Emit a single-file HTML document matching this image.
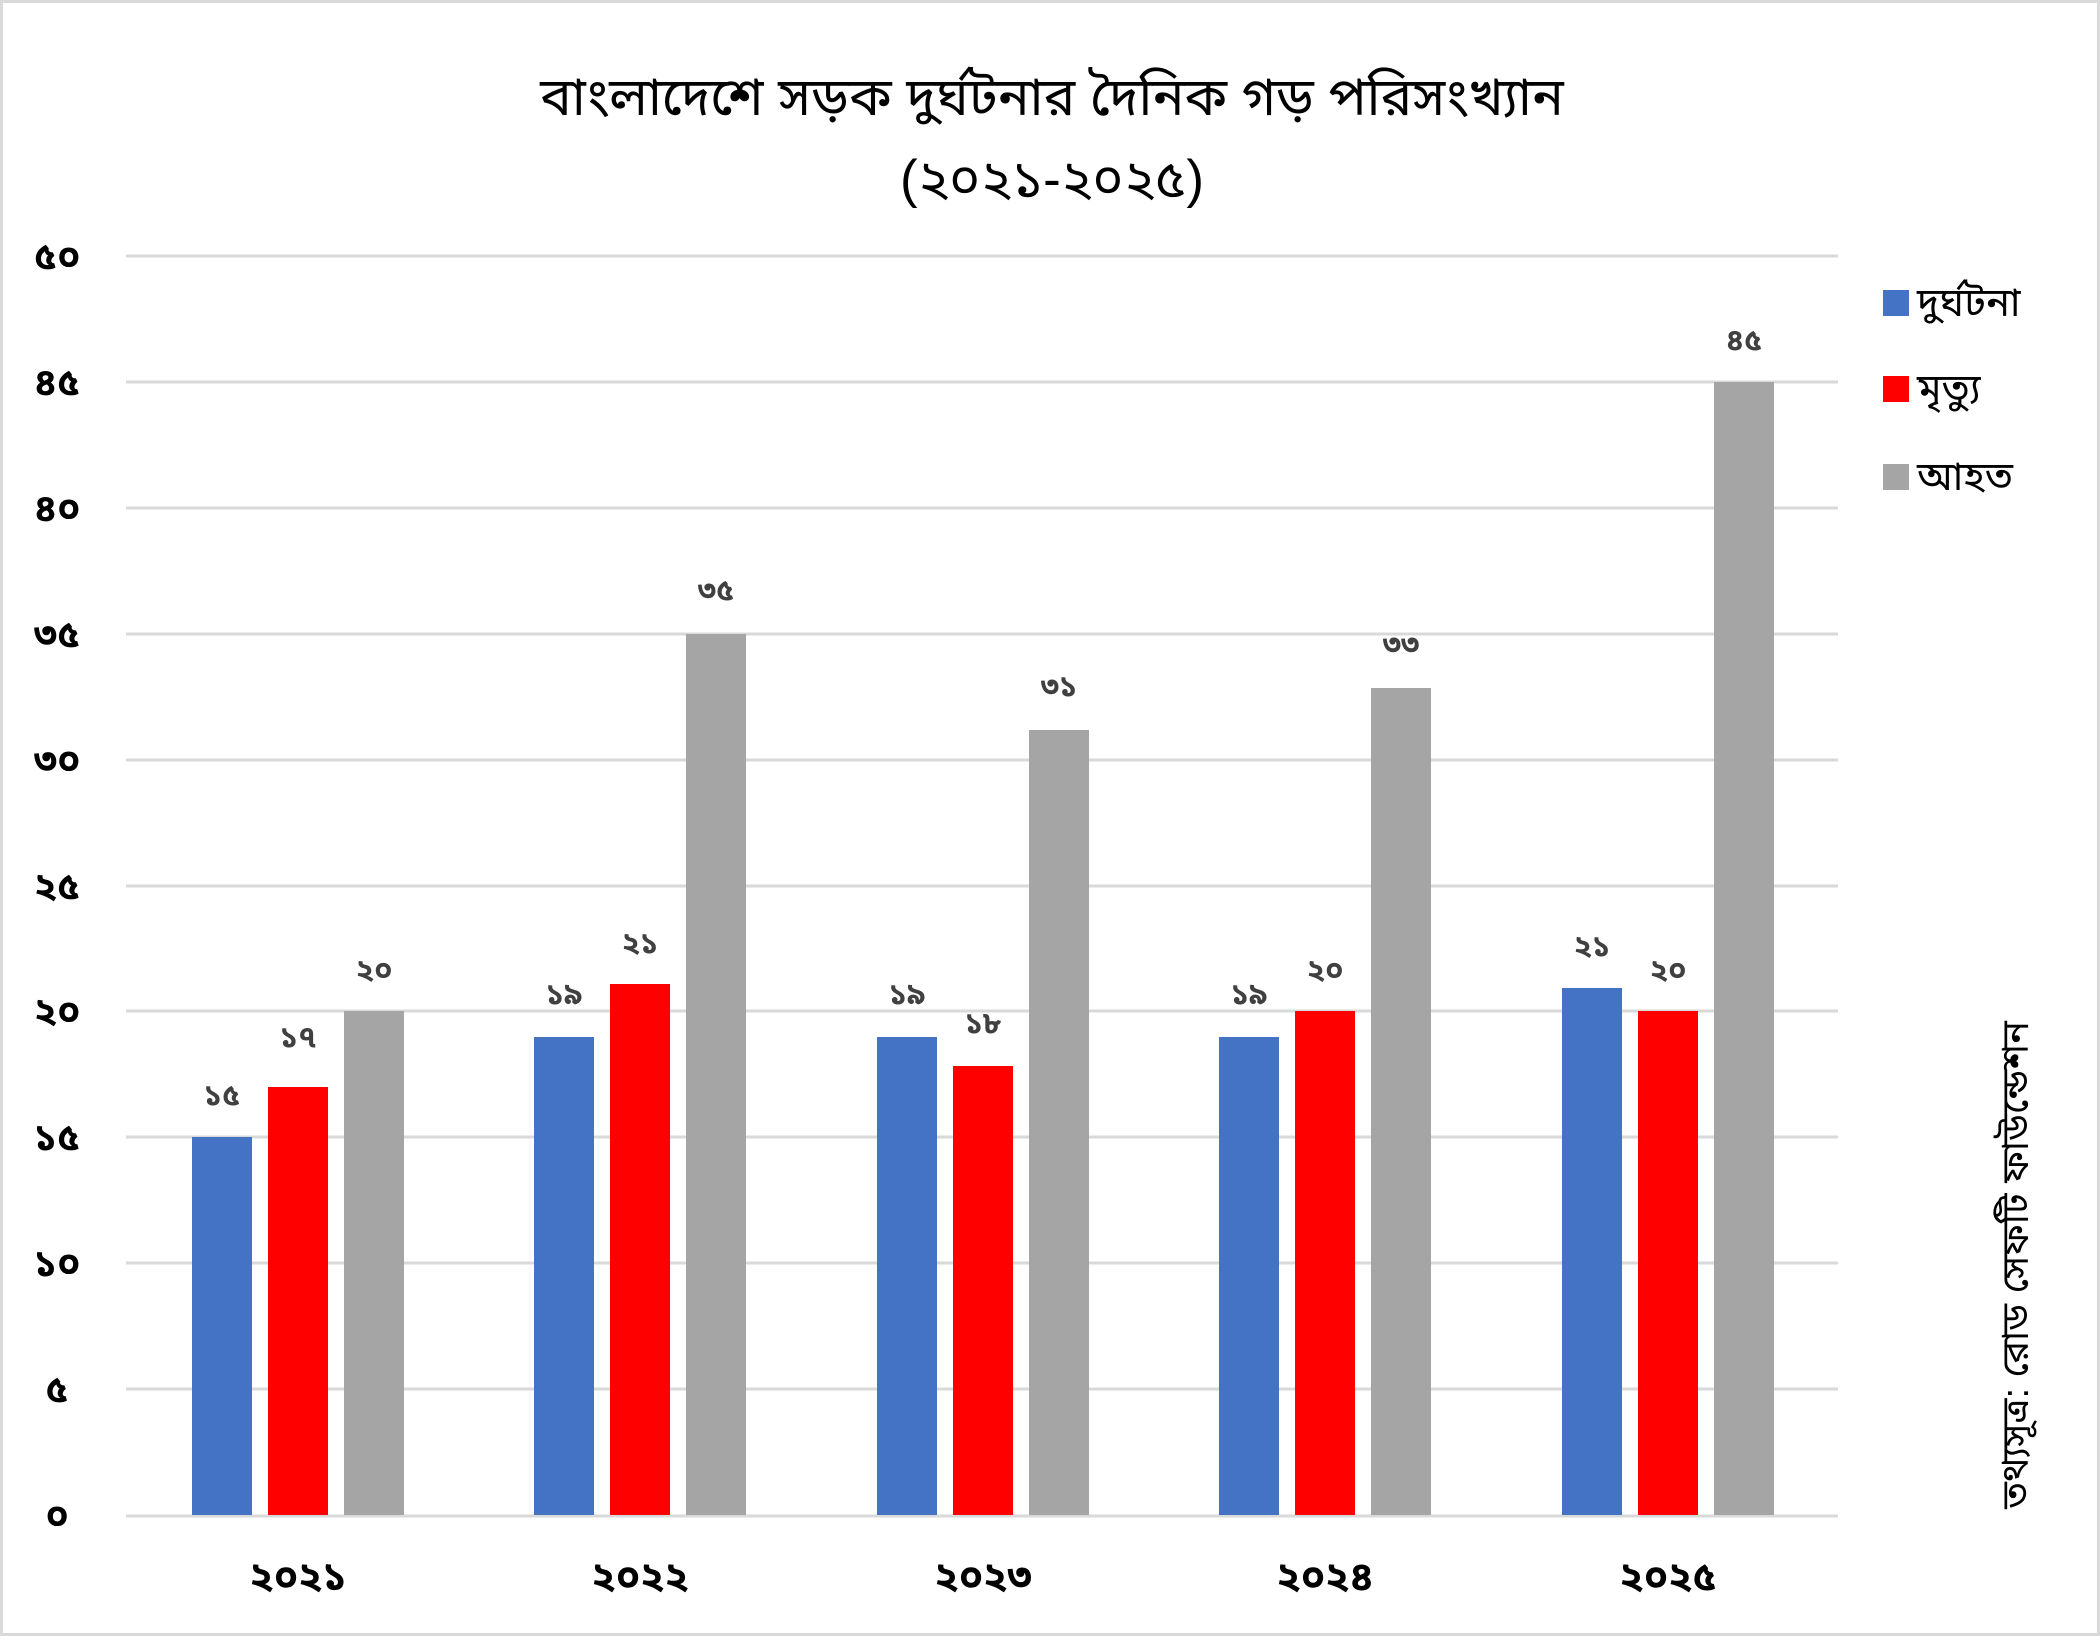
<!DOCTYPE html>
<html><head><meta charset="utf-8"><style>
html,body{margin:0;padding:0;background:#fff}
</style></head><body>
<svg width="2100" height="1636" xmlns="http://www.w3.org/2000/svg" font-family="'Liberation Sans','Noto Sans Bengali','Lohit Bengali',sans-serif">
<rect x="1.5" y="1.5" width="2097" height="1633" fill="#fff" stroke="#d9d9d9" stroke-width="3"/>
<text x="1052" y="115" font-size="53" text-anchor="middle">বাংলাদেশে সড়ক দুর্ঘটনার দৈনিক গড় পরিসংখ্যান</text>
<text x="1052" y="197" font-size="53" text-anchor="middle">(২০২১-২০২৫)</text>
<g stroke="#d9d9d9" stroke-width="3">
<line x1="126" x2="1838" y1="256" y2="256"/><line x1="126" x2="1838" y1="382" y2="382"/>
<line x1="126" x2="1838" y1="508" y2="508"/><line x1="126" x2="1838" y1="634" y2="634"/>
<line x1="126" x2="1838" y1="760" y2="760"/><line x1="126" x2="1838" y1="886" y2="886"/>
<line x1="126" x2="1838" y1="1011" y2="1011"/><line x1="126" x2="1838" y1="1137" y2="1137"/>
<line x1="126" x2="1838" y1="1263" y2="1263"/><line x1="126" x2="1838" y1="1389" y2="1389"/>
<line x1="126" x2="1838" y1="1516" y2="1516"/>
</g>
<g font-size="38" text-anchor="middle" font-weight="bold">
<text x="57" y="269">৫০</text><text x="57" y="395">৪৫</text><text x="57" y="521">৪০</text>
<text x="57" y="647">৩৫</text><text x="57" y="773">৩০</text><text x="57" y="899">২৫</text>
<text x="57" y="1024">২০</text><text x="57" y="1150">১৫</text><text x="57" y="1276">১০</text>
<text x="57" y="1402">৫</text><text x="57" y="1528">০</text>
</g>
<g>
<rect x="192" y="1137" width="60" height="378" fill="#4472c4"/>
<rect x="268" y="1087" width="60" height="428" fill="#ff0000"/>
<rect x="344" y="1011" width="60" height="504" fill="#a5a5a5"/>
<rect x="534" y="1037" width="60" height="478" fill="#4472c4"/>
<rect x="610" y="984" width="60" height="531" fill="#ff0000"/>
<rect x="686" y="634" width="60" height="881" fill="#a5a5a5"/>
<rect x="877" y="1037" width="60" height="478" fill="#4472c4"/>
<rect x="953" y="1066" width="60" height="449" fill="#ff0000"/>
<rect x="1029" y="730" width="60" height="785" fill="#a5a5a5"/>
<rect x="1219" y="1037" width="60" height="478" fill="#4472c4"/>
<rect x="1295" y="1011" width="60" height="504" fill="#ff0000"/>
<rect x="1371" y="688" width="60" height="827" fill="#a5a5a5"/>
<rect x="1562" y="988" width="60" height="527" fill="#4472c4"/>
<rect x="1638" y="1011" width="60" height="504" fill="#ff0000"/>
<rect x="1714" y="382" width="60" height="1133" fill="#a5a5a5"/>
</g>
<g font-size="30" text-anchor="middle" fill="#404040" font-weight="bold">
<text x="222" y="1105">১৫</text><text x="298" y="1047">১৭</text><text x="374" y="980">২০</text>
<text x="564" y="1004">১৯</text><text x="640" y="953">২১</text><text x="716" y="600">৩৫</text>
<text x="907" y="1004">১৯</text><text x="983" y="1033">১৮</text><text x="1059" y="696">৩১</text>
<text x="1249" y="1004">১৯</text><text x="1325" y="980">২০</text><text x="1401" y="654">৩৩</text>
<text x="1592" y="956">২১</text><text x="1668" y="980">২০</text><text x="1744" y="350">৪৫</text>
</g>
<g font-size="40" text-anchor="middle" font-weight="bold">
<text x="298" y="1590">২০২১</text><text x="640" y="1590">২০২২</text><text x="983" y="1590">২০২৩</text>
<text x="1325" y="1590">২০২৪</text><text x="1668" y="1590">২০২৫</text>
</g>
<rect x="1883" y="290" width="26" height="26" fill="#4472c4"/>
<rect x="1883" y="376" width="26" height="26" fill="#ff0000"/>
<rect x="1883" y="464" width="26" height="26" fill="#a5a5a5"/>
<g font-size="40">
<text x="1917" y="316">দুর্ঘটনা</text>
<text x="1917" y="402">মৃত্যু</text>
<text x="1917" y="490">আহত</text>
</g>
<text x="0" y="0" font-size="38" text-anchor="middle" transform="translate(2028,1265) rotate(-90)">তথ্যসূত্র: রোড সেফটি ফাউন্ডেশন</text>
</svg>
</body></html>
